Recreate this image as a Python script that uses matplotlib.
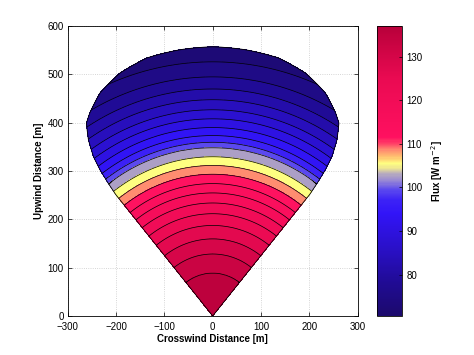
import numpy as np
import matplotlib
matplotlib.use("Agg")
import matplotlib.pyplot as plt
from matplotlib.colors import LinearSegmentedColormap, Normalize
from matplotlib.cm import ScalarMappable

plt.rcParams["font.family"] = ["Liberation Sans", "DejaVu Sans"]

# footprint outline: max radius (m) vs angle from upwind axis (deg)
EDGE_DEG = 38.6
CAP_THETA = [0, 7.0, 14.3, 20.9, 26.8, 31.2, 33.2, 35.2, 36.8, 37.65, 38.2, 38.6]
CAP_R = [557, 555, 551, 538, 517, 491, 477, 446, 412, 381, 350, 322]

# flux along the upwind axis (contour crossings)
FLUX_R = [0, 88.8, 128.3, 159.5, 187.3, 211.6, 233.8, 254.6, 273.9, 293.3, 311.4,
          329.4, 348.2, 359.3, 373.2, 389.8, 407.9, 426.6, 447.4, 469.6, 494.6, 525.8, 559.8]
FLUX_V = [137, 134, 131, 128, 125, 122, 119, 116, 113, 110, 107,
          104, 101, 98, 95, 92, 89, 86, 83, 80, 77, 74, 71]
LEVELS = np.arange(71, 138, 3)
CB_TICKS = [80, 90, 100, 110, 120, 130]
VMIN, VMAX = 70.5, 137

# colour anchors (flux value, colour) sampled from the colour bar / bands
CMAP_V = [70.5, 78, 86, 94, 97, 99.5, 101.5, 103, 104.5, 105.5, 107, 108.5, 110,
          111.5, 125, 137]
CMAP_C = ["#1c0a6c", "#200b94", "#2a10c8", "#3214f8", "#3c22f6", "#5c4aee", "#9888d4",
          "#b4a8c0", "#f0e890", "#ffff80", "#ffc070", "#ff9070", "#ff4468",
          "#ff1060", "#ea0a52", "#b8003a"]

cmap = LinearSegmentedColormap.from_list(
    "flux", [((v - VMIN) / (VMAX - VMIN), c) for v, c in zip(CMAP_V, CMAP_C)], N=256)
norm = Normalize(VMIN, VMAX)

# polar grid clipped to the footprint outline
th = np.linspace(-EDGE_DEG, EDGE_DEG, 401)
s = np.linspace(0, 1, 301)
TH, S = np.meshgrid(th, s)
R = S * np.interp(np.abs(TH), CAP_THETA, CAP_R)
X = R * np.sin(np.radians(TH))
Y = R * np.cos(np.radians(TH))
Z = np.interp(R, FLUX_R, FLUX_V)

fig = plt.figure(figsize=(4.74, 3.55), dpi=100)
ax = fig.add_axes([0.1428, 0.1099, 0.6118, 0.8169])
cax = fig.add_axes([0.7954, 0.1099, 0.0527, 0.8169])

ax.contourf(X, Y, Z, levels=LEVELS, cmap=cmap, norm=norm, zorder=2)
ax.contour(X, Y, Z, levels=LEVELS, colors="black", linewidths=0.5, zorder=3)

# outline
ox = np.concatenate([[0], X[-1, :], [0]])
oy = np.concatenate([[0], Y[-1, :], [0]])
ax.plot(ox, oy, color="black", lw=0.6, zorder=4)

ax.set_xlim(-300, 300)
ax.set_ylim(0, 600)
ax.set_xticks(np.arange(-300, 301, 100))
ax.set_yticks(np.arange(0, 601, 100))
ax.grid(True, color="#c8c8c8", ls=":", lw=0.6, zorder=0)
ax.set_axisbelow(True)
ax.tick_params(direction="in", top=True, right=True, length=3, width=0.5, labelsize=7)
ax.tick_params(axis="x", pad=4.5)
ax.tick_params(axis="y", pad=3)
for sp in ax.spines.values():
    sp.set_linewidth(0.6)
ax.set_xlabel("Crosswind Distance [m]", fontsize=7, fontweight="bold", labelpad=1)
ax.set_ylabel("Upwind Distance [m]", fontsize=7, fontweight="bold", labelpad=2)

cb = fig.colorbar(ScalarMappable(norm=norm, cmap=cmap), cax=cax)
cb.set_ticks(CB_TICKS)
cb.ax.tick_params(direction="in", length=2, width=0.5, labelsize=7, pad=3)
cb.outline.set_linewidth(0.6)
cb.set_label("Flux [W m$^{-2}$]", fontsize=7, fontweight="bold", labelpad=5)

fig.savefig("out.png", dpi=100)
